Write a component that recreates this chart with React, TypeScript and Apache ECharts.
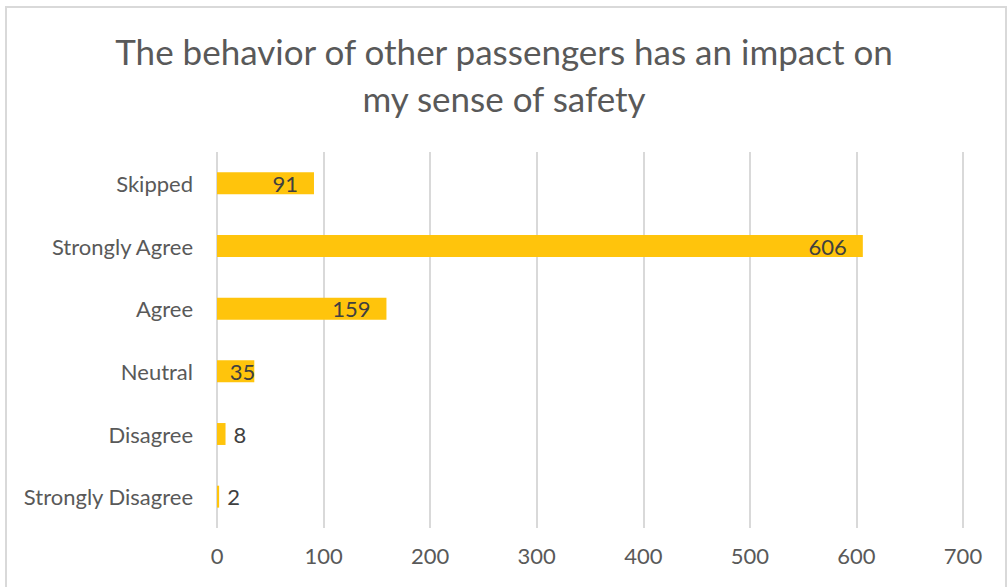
import React, { useEffect, useRef } from "react";
import * as echarts from "echarts";

const categories = ["Skipped", "Strongly Agree", "Agree", "Neutral", "Disagree", "Strongly Disagree"];
const values = [91, 606, 159, 35, 8, 2];
const titleText = "The behavior of other passengers has an impact on\nmy sense of safety";

export default function App() {
  const ref = useRef<HTMLDivElement>(null);
  useEffect(() => {
    if (!ref.current) return;
    const chart = echarts.init(ref.current, undefined, { renderer: "svg" });
    const font = "Lato";
    const data = values.map((v) => {
      if (v < 20) return { value: v, label: { position: "right", distance: 8 } };
      if (v < 50) return { value: v, label: { position: "insideRight", distance: -1 } };
      return { value: v };
    });
    chart.setOption({
      animation: false,
      backgroundColor: "#ffffff",
      graphic: [
        {
          type: "rect",
          shape: { x: 6, y: 7, width: 1000, height: 600 },
          style: { fill: "none", stroke: "#D9D9D9", lineWidth: 2 },
          silent: true,
        },
      ],
      title: {
        text: titleText,
        left: "center",
        top: 22,
        textStyle: {
          fontFamily: font,
          fontSize: 35,
          fontWeight: "normal",
          color: "#595959",
          lineHeight: 47,
        },
      },
      grid: { left: 217, right: 45, top: 152, bottom: 59, containLabel: false },
      xAxis: {
        type: "value",
        min: 0,
        max: 700,
        interval: 100,
        axisLine: { show: false },
        axisTick: { show: false },
        splitLine: { show: true, lineStyle: { color: "#D9D9D9", width: 2 } },
        axisLabel: { fontFamily: font, fontSize: 22, color: "#595959", margin: 16 },
      },
      yAxis: {
        type: "category",
        data: categories,
        inverse: true,
        axisLine: { show: false },
        axisTick: { show: false },
        axisLabel: { fontFamily: font, fontSize: 22, color: "#595959", margin: 24 },
      },
      series: [
        {
          type: "bar",
          data,
          barCategoryGap: "65%",
          itemStyle: { color: "#FFC40C" },
          label: {
            show: true,
            position: "insideRight",
            distance: 16,
            fontFamily: font,
            fontSize: 22,
            color: "#404040",
          },
        },
      ],
    });
    return () => chart.dispose();
  }, []);
  return (
    <div
      ref={ref}
      style={{ position: "fixed", left: 0, top: 0, width: 1008, height: 587 }}
    />
  );
}
